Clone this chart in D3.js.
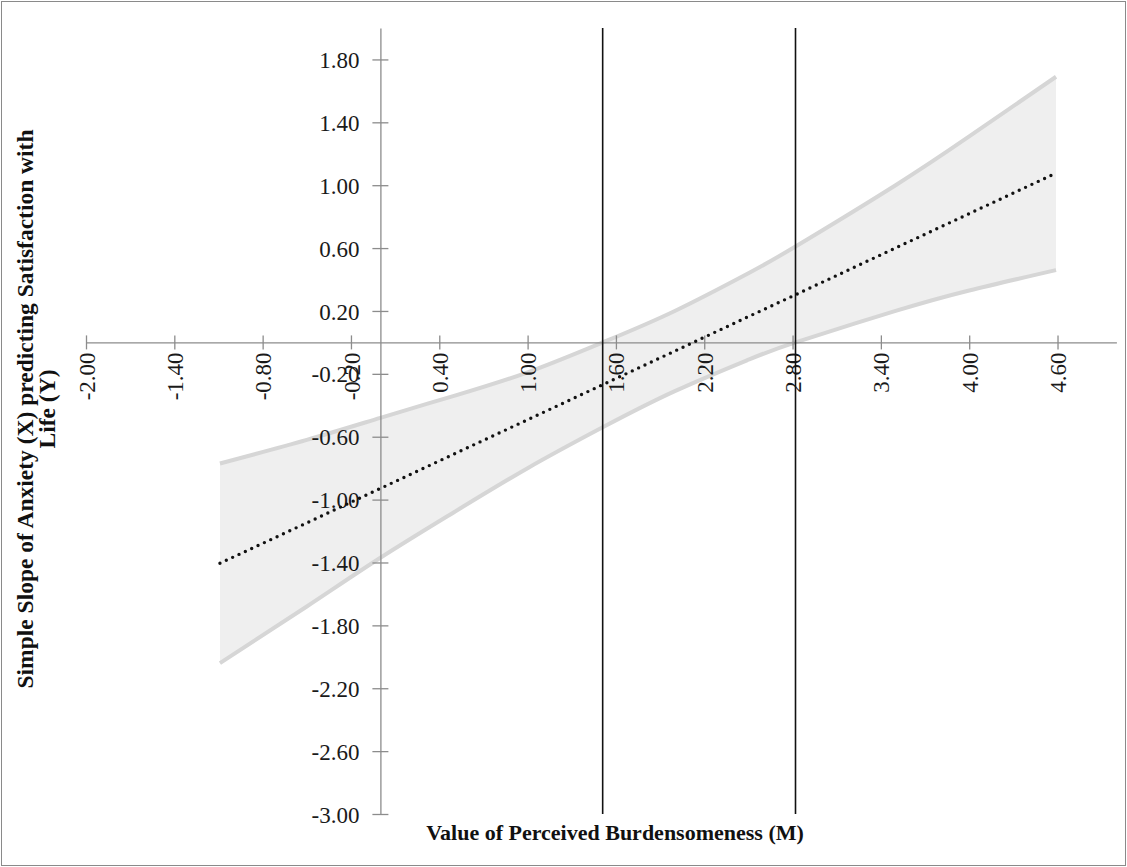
<!DOCTYPE html>
<html>
<head>
<meta charset="utf-8">
<script src="https://cdn.jsdelivr.net/npm/d3@7"></script>
<style>
  html, body { margin: 0; padding: 0; background: #fff; }
  svg { display: block; }
</style>
</head>
<body>
<script>
// ---- data ----
const moderatorValues = [-1.09, -0.5, 0, 0.5, 1.0, 1.51, 2.0, 2.5, 2.82, 3.5, 4.0, 4.59];
const simpleSlope     = [-1.405, -1.148, -0.929, -0.71, -0.492, -0.269, -0.055, 0.164, 0.303, 0.601, 0.819, 1.077];
const upperCI         = [-0.77, -0.62, -0.48, -0.34, -0.19, 0.00, 0.20, 0.44, 0.61, 1.00, 1.31, 1.69];
const lowerCI         = [-2.04, -1.68, -1.37, -1.08, -0.80, -0.54, -0.31, -0.11, 0.00, 0.20, 0.33, 0.46];
const jnPoints        = [1.51, 2.82];
const xTickLabels     = ["-2.00","-1.40","-0.80","-0.20","0.40","1.00","1.60","2.20","2.80","3.40","4.00","4.60"];
const yTickLabels     = ["1.80","1.40","1.00","0.60","0.20","-0.20","-0.60","-1.00","-1.40","-1.80","-2.20","-2.60","-3.00"];
const xDomain = [-2, 5];
const yDomain = [-3, 2];
const xTitle = "Value of Perceived Burdensomeness (M)";
const yTitleLines = ["Simple Slope of Anxiety (X) predicting Satisfaction with", "Life (Y)"];

const W = 1127, H = 867;
const svg = d3.select("body").append("svg").attr("width", W).attr("height", H);

svg.append("rect").attr("x", 1.5).attr("y", 1.5).attr("width", W - 3).attr("height", H - 3)
  .attr("fill", "#fff").attr("stroke", "#8a8a8a").attr("stroke-width", 1);

const x = d3.scaleLinear().domain(xDomain).range([86, 1116.4]);
const y = d3.scaleLinear().domain(yDomain).range([814, 28]);

const pts = moderatorValues.map((m, i) => ({ m, c: simpleSlope[i], lo: lowerCI[i], hi: upperCI[i] }));

// band
svg.append("path").datum(pts)
  .attr("d", d3.area().x(d => x(d.m)).y0(d => y(d.lo)).y1(d => y(d.hi)).curve(d3.curveNatural))
  .attr("fill", "#efefef");
svg.append("path").datum(pts)
  .attr("d", d3.line().x(d => x(d.m)).y(d => y(d.hi)).curve(d3.curveNatural))
  .attr("fill", "none").attr("stroke", "#d6d6d6").attr("stroke-width", 4);
svg.append("path").datum(pts)
  .attr("d", d3.line().x(d => x(d.m)).y(d => y(d.lo)).curve(d3.curveNatural))
  .attr("fill", "none").attr("stroke", "#d6d6d6").attr("stroke-width", 4);

const tickFont = "'Liberation Serif', 'Times New Roman', serif";

// x axis
const xAxis = d3.axisBottom(x).tickValues(xTickLabels.map(Number)).tickSizeOuter(0)
  .tickFormat((d, i) => xTickLabels[i]);
const gx = svg.append("g").attr("transform", `translate(0,${y(0)})`).call(xAxis);
gx.select(".domain").attr("stroke", "#8c8c8c").attr("stroke-width", 1.3);
gx.selectAll(".tick line").attr("y1", -7).attr("y2", 7).attr("stroke", "#8c8c8c").attr("stroke-width", 1.3);
gx.selectAll(".tick text")
  .attr("transform", "rotate(-90)")
  .attr("x", -10).attr("y", 0).attr("dy", "0.35em")
  .attr("text-anchor", "end")
  .attr("font-size", 23).attr("fill", "#1a1a1a");

// y axis
const yAxis = d3.axisLeft(y).tickValues(yTickLabels.map(Number)).tickSizeOuter(0)
  .tickFormat((d, i) => yTickLabels[i]);
const gy = svg.append("g").attr("transform", `translate(${x(0)},0)`).call(yAxis);
gy.select(".domain").attr("stroke", "#8c8c8c").attr("stroke-width", 1.3);
gy.selectAll(".tick line").attr("x1", -8).attr("x2", 8).attr("stroke", "#8c8c8c").attr("stroke-width", 1.3);
gy.selectAll(".tick text")
  .attr("x", -21).attr("dy", "0.35em")
  .attr("font-size", 23).attr("fill", "#1a1a1a");
svg.selectAll(".tick text").style("font-family", tickFont);

// simple slope dotted line
svg.append("path").datum(pts)
  .attr("d", d3.line().x(d => x(d.m)).y(d => y(d.c)))
  .attr("fill", "none").attr("stroke", "#111").attr("stroke-width", 3.4)
  .attr("stroke-linecap", "round").attr("stroke-dasharray", "0,7");

// Johnson-Neyman lines
svg.selectAll("line.jn").data(jnPoints).enter().append("line").attr("class", "jn")
  .attr("x1", d => x(d)).attr("x2", d => x(d))
  .attr("y1", y(yDomain[1])).attr("y2", y(yDomain[0]))
  .attr("stroke", "#111").attr("stroke-width", 1.6);

// titles
svg.append("text").text(xTitle)
  .attr("x", 615).attr("y", 840).attr("text-anchor", "middle")
  .attr("font-family", tickFont).attr("font-weight", "bold").attr("font-size", 22).attr("fill", "#111");

const yt = svg.append("text").attr("transform", "translate(33,409) rotate(-90)")
  .attr("text-anchor", "middle")
  .attr("font-family", tickFont).attr("font-weight", "bold").attr("font-size", 23.5).attr("fill", "#111");
yTitleLines.forEach((t, i) => yt.append("tspan").attr("x", 0).attr("dy", i === 0 ? 0 : 22).text(t));
</script>
</body>
</html>
